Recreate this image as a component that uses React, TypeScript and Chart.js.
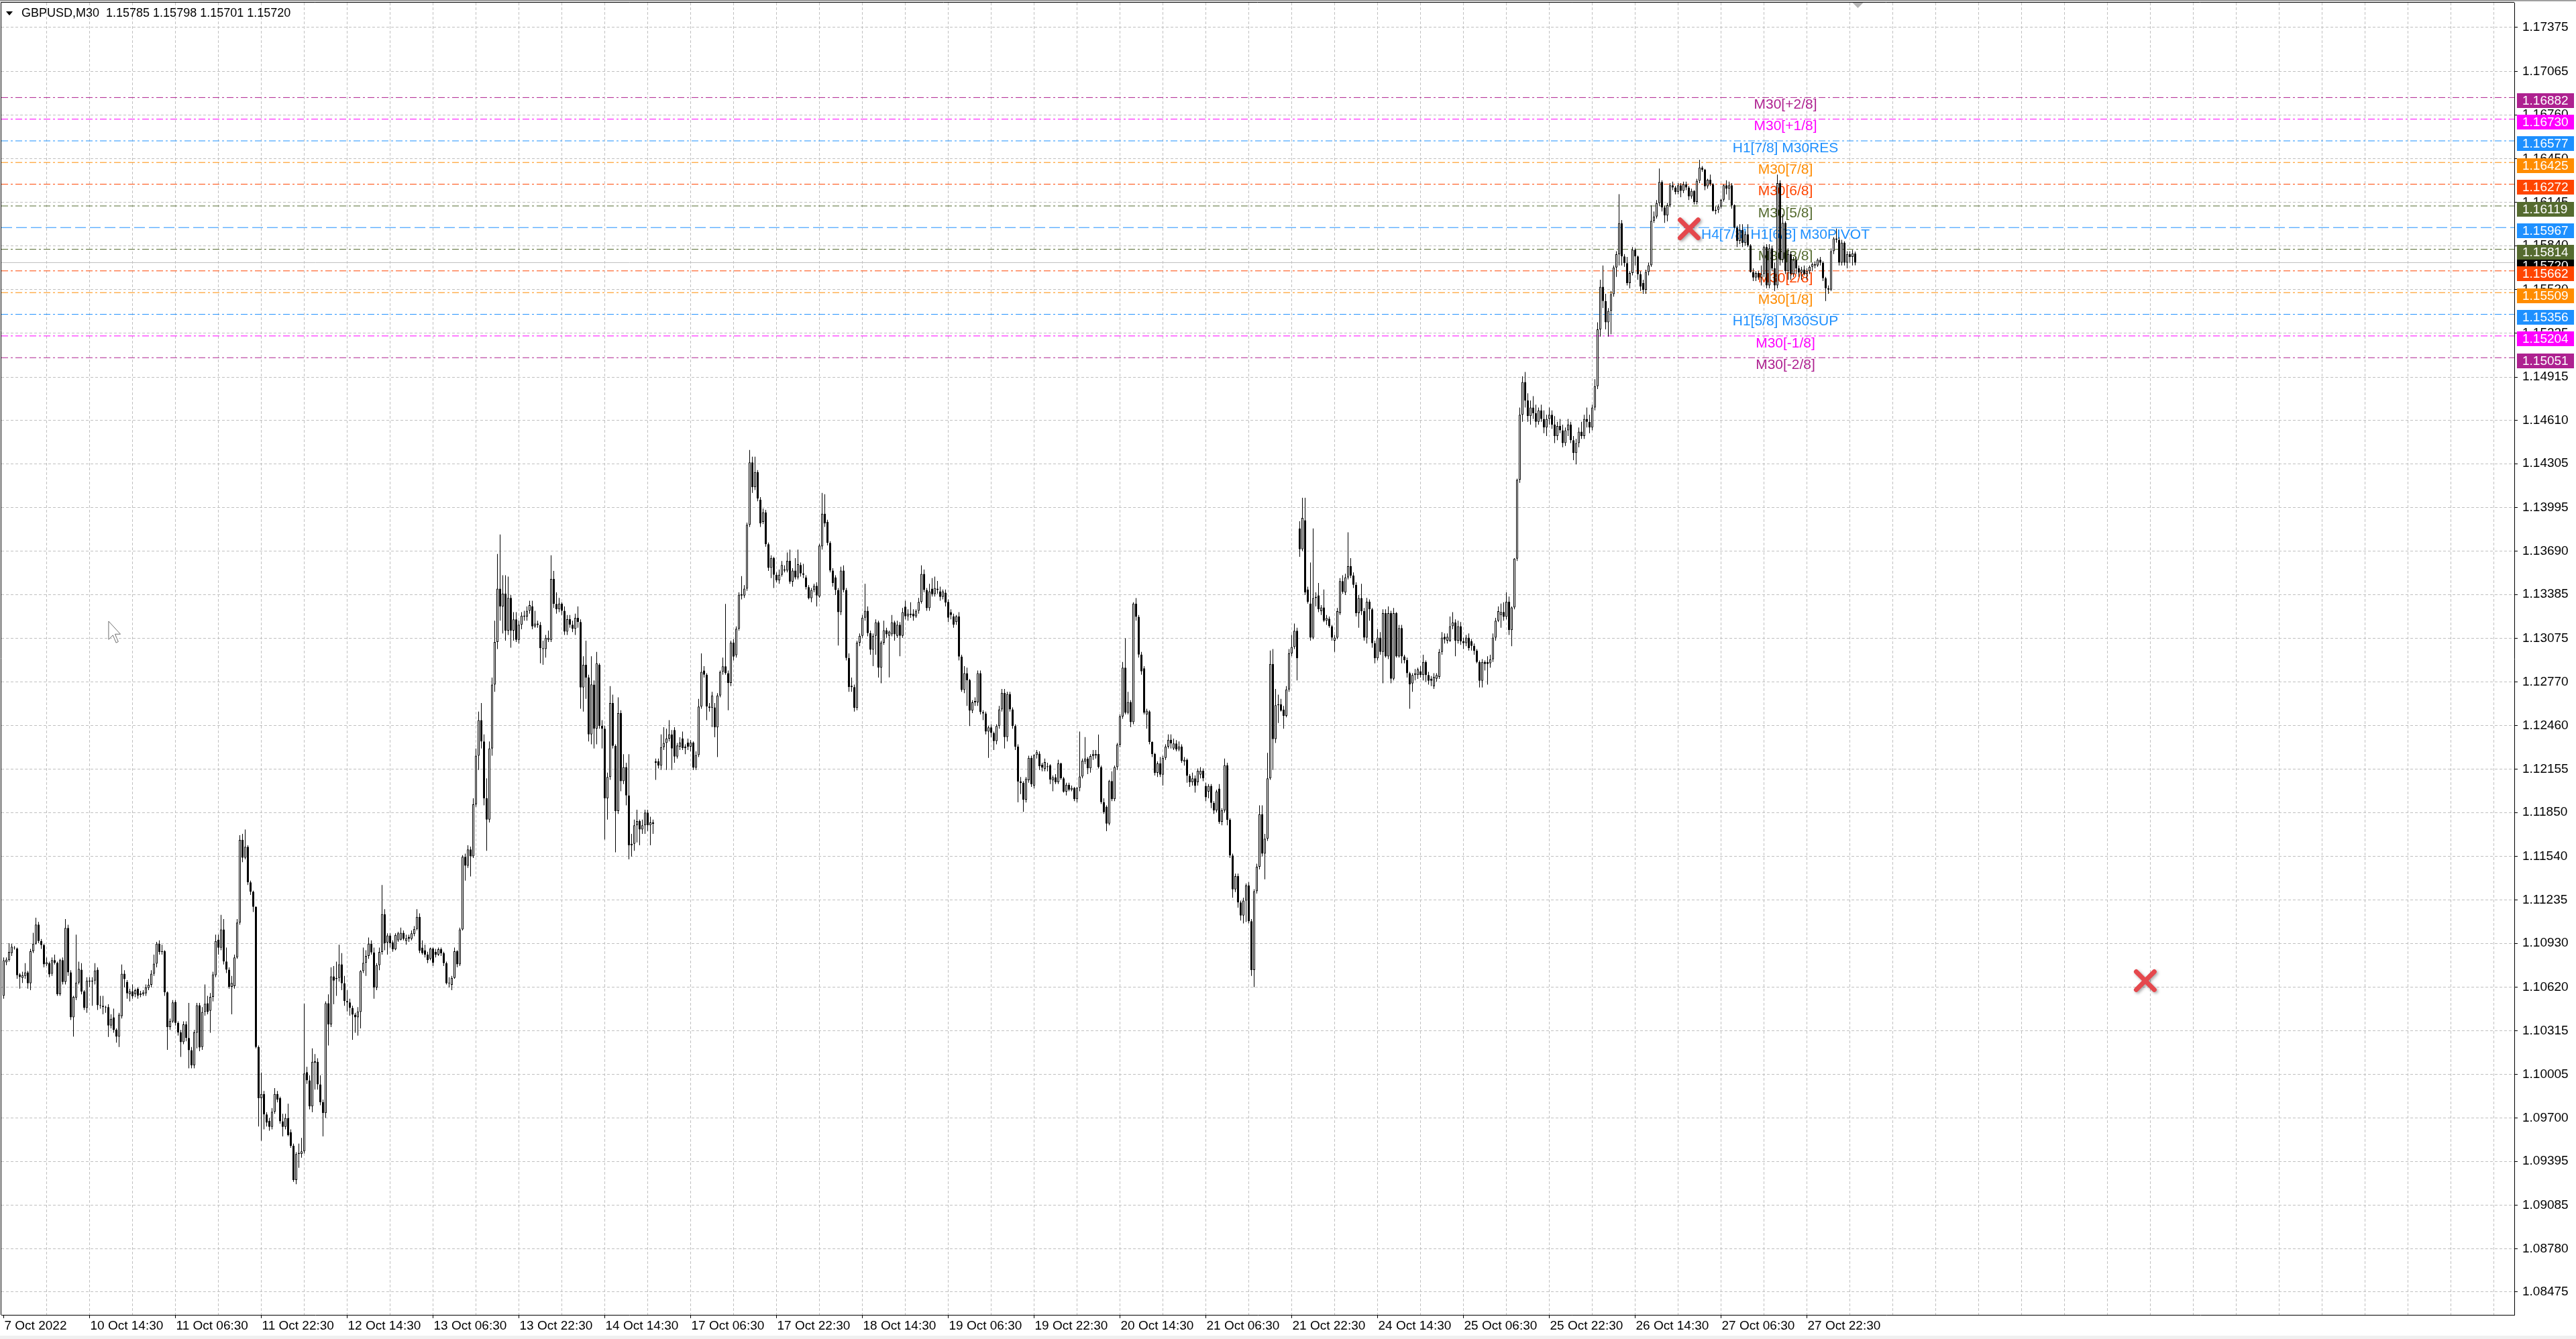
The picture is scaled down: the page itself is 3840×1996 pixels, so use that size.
import React, { useEffect, useRef } from 'react';
import { Chart, registerables } from 'chart.js';

Chart.register(...registerables);

const SYMBOL = 'GBPUSD';
const PERIOD = 'M30';

// time-axis labels, one every 32 bars
const X_LABELS = ['7 Oct 2022', '10 Oct 14:30', '11 Oct 06:30', '11 Oct 22:30', '12 Oct 14:30', '13 Oct 06:30', '13 Oct 22:30', '14 Oct 14:30', '17 Oct 06:30', '17 Oct 22:30', '18 Oct 14:30', '19 Oct 06:30', '19 Oct 22:30', '20 Oct 14:30', '21 Oct 06:30', '21 Oct 22:30', '24 Oct 14:30', '25 Oct 06:30', '25 Oct 22:30', '26 Oct 14:30', '27 Oct 06:30', '27 Oct 22:30'];

// price-axis labels
const Y_TICKS = [1.17375, 1.17065, 1.1676, 1.1645, 1.16145, 1.1584, 1.1553, 1.15225, 1.14915, 1.1461, 1.14305, 1.13995, 1.1369, 1.13385, 1.13075, 1.1277, 1.1246, 1.12155, 1.1185, 1.1154, 1.11235, 1.1093, 1.1062, 1.10315, 1.10005, 1.097, 1.09395, 1.09085, 1.0878, 1.08475];

// candles, in points above 1.00000 (10810 = 1.10810)
const OPEN = [
10560,10795,10811,10860,10900,10892,10711,10686,10700,10725,
10648,10873,10927,11061,10946,10917,10782,10790,10715,10811,
10792,10571,10811,10657,11038,10725,10408,10546,10653,10744,
10590,10475,10667,10660,10667,10744,10494,10490,10480,10480,
10350,10408,10321,10273,10417,10715,10657,10571,10590,10571,
10609,10565,10571,10577,10615,10638,10715,10786,10927,10869,
10873,10584,10340,10379,10517,10369,10302,10234,10359,10263,
10177,10071,10300,10494,10200,10446,10507,10455,10552,10705,
10955,10898,11027,10802,10744,10623,10628,10830,11075,11657,
11532,11609,11359,11292,11186,10200,9840,9869,9725,9680,
9638,9744,9869,9840,9677,9638,9700,9600,9504,9263,
9446,9446,9465,10023,9965,9782,10090,10096,9936,9811,
9734,10507,10359,10696,10677,10686,10782,10648,10523,10513,
10475,10427,10408,10446,10734,10792,10840,10927,10865,10619,
10776,10869,11134,10935,10985,10936,10888,10950,10955,11003,
10946,10975,10961,10995,11030,11115,10900,10880,10850,10820,
10892,10869,10850,10888,10859,10790,10653,10638,10686,10873,
10782,11027,11538,11475,11590,11542,11907,12250,12500,12350,
11950,11800,12300,12750,13050,13426,13300,13390,13130,13360,
13130,13210,13065,13172,13235,13230,13270,13300,13160,13180,
13170,13006,13000,13065,13065,13494,13318,13280,13320,13270,
13123,13211,13172,13143,13220,13190,12730,12890,12800,12400,
12750,12440,12890,12460,12440,11950,12100,12620,12320,11860,
12550,12070,12170,11970,11620,11630,11760,11790,11730,11760,
11850,11760,11780,12200,12210,12180,12310,12340,12370,12400,
12430,12244,12313,12371,12303,12342,12313,12342,12166,12254,
12596,12850,12820,12586,12586,12590,12449,12674,12840,12879,
12830,12762,13045,12957,13143,13377,13377,13426,13875,14314,
14139,14246,14051,13895,13963,13738,13572,13641,13523,13484,
13523,13560,13553,13621,13475,13553,13504,13592,13533,13504,
13436,13358,13416,13445,13371,13723,13953,13895,13748,13553,
13504,13416,13260,13553,13416,12938,12742,12733,12586,13045,
13094,13221,13270,13113,12996,13094,13188,12869,13045,13133,
13094,13104,13188,13094,13172,13094,13299,13231,13240,13250,
13231,13270,13332,13529,13416,13289,13426,13387,13426,13406,
13367,13397,13332,13260,13231,13191,13231,12947,12713,12830,
12781,12567,12635,12625,12830,12557,12547,12420,12449,12410,
12352,12459,12576,12693,12381,12684,12576,12459,12313,12068,
12059,11940,12078,12234,12039,12254,12264,12186,12156,12175,
12182,12076,12098,12063,12195,12090,11997,12045,12010,12023,
11944,12023,12103,12209,12230,12161,12248,12250,12262,12169,
11923,11891,11772,12071,11944,12169,12328,12526,12870,12552,
12627,12486,13320,13227,12962,12865,12539,12561,12346,12262,
12129,12195,12116,12235,12314,12362,12300,12336,12293,12314,
12209,12222,12108,12063,12090,12063,12116,12143,12037,11997,
12037,11918,11865,12018,11785,11865,12182,11799,11547,11309,
11402,11217,11125,11230,11336,11085,10741,11296,11468,11838,
11561,11666,12090,12896,12367,12605,12611,12574,12531,12716,
12970,13015,13129,13849,13703,13907,13420,13320,13081,13367,
13378,13267,13293,13200,13214,13161,13060,13081,13253,13478,
13399,13505,13584,13518,13452,13253,13359,13267,13081,13333,
13280,13042,12936,13081,12981,13253,12949,13253,12791,13253,
12949,13148,12949,12923,12830,12759,12817,12817,12843,12817,
12910,12817,12791,12738,12791,12804,12981,13087,13060,13060,
13161,13187,13060,13161,13055,13042,13081,13055,13023,12989,
12910,12777,12910,12910,12900,12928,13081,13200,13240,13261,
13227,13333,13134,13293,13637,14192,14650,14880,14750,14640,
14700,14660,14600,14680,14620,14560,14620,14650,14580,14500,
14570,14540,14450,14540,14580,14470,14380,14450,14530,14500,
14620,14600,14560,14700,14850,15250,15550,15450,15300,15380,
15498,15686,15779,15998,15764,15717,15576,15647,15811,15764,
15639,15576,15529,15654,15701,16014,16045,16139,16288,16108,
16053,16124,16264,16249,16217,16264,16225,16272,16249,16186,
16225,16147,16296,16389,16374,16257,16303,16272,16084,16092,
16116,16163,16264,16240,16264,16124,15967,15873,15950,15858,
15920,15842,15654,15615,15647,15615,15640,15830,15560,15820,
15680,15560,16280,15740,16000,15660,15780,15640,15740,15680,
15650,15670,15640,15660,15690,15710,15700,15740,15720,15610,
15540,15530,15800,15890,15880,15720,15860,15720,15780,15760,15785];

const HIGH = [
10830,10830,10930,10925,10910,10900,10720,10730,10790,10735,
10890,11003,11109,11080,10960,10925,10830,10800,10830,10850,
10800,10820,10830,11100,11060,10740,10560,10990,10800,10790,
10600,10690,10690,10690,10790,10760,10560,10560,10490,10500,
10430,10470,10330,10440,10780,10740,10670,10610,10640,10610,
10620,10595,10600,10640,10680,10740,10850,10940,10950,10920,
10880,10590,10400,10530,10530,10380,10320,10380,10380,10510,
10200,10320,10510,10510,10480,10640,10560,10580,10730,10990,
10990,11130,11100,10900,10760,10700,10850,11100,11690,11700,
11730,11620,11370,11300,11190,10210,10020,9890,9740,9700,
9770,9910,9890,9850,9730,9730,9800,9620,9520,9460,
9520,9560,10504,10060,10000,10190,10150,10120,10000,9830,
10520,10570,10760,10770,10800,10920,10860,10700,10600,10540,
10490,10440,10480,10740,10900,10880,10970,10950,10900,10790,
10900,11340,11170,11000,11000,10950,11000,11010,11040,11020,
10990,10990,11020,11050,11170,11140,10950,10920,10870,10900,
10900,10890,10900,10900,10870,10800,10690,10700,10900,10880,
11040,11550,11560,11620,11610,11950,12300,12560,12620,12400,
12090,12350,12800,13200,13670,13807,13520,13520,13510,13380,
13260,13260,13200,13260,13270,13300,13340,13340,13270,13200,
13190,13060,13100,13130,13660,13550,13400,13360,13330,13300,
13240,13240,13200,13250,13300,13210,12950,13060,12820,12950,
12780,12980,12900,12500,12460,12130,12740,12680,12330,12660,
12570,12260,12200,12260,11700,11800,11870,11800,11800,11870,
11870,11820,11800,12230,12230,12400,12450,12440,12500,12430,
12450,12340,12380,12420,12330,12370,12360,12350,12280,12650,
12970,12880,12830,12620,12700,12620,12690,12850,12940,13318,
12850,13060,13070,13160,13400,13514,13450,13890,14402,14354,
14354,14260,14070,13990,13980,13750,13660,13650,13540,13560,
13620,13590,13680,13700,13570,13640,13700,13610,13600,13520,
13450,13430,13460,13470,13740,14100,14090,13910,13760,13570,
13520,13430,13580,13590,13430,12970,12800,12750,13060,13110,
13240,13460,13300,13130,13110,13210,13200,13060,13200,13150,
13130,13240,13200,13200,13190,13290,13340,13280,13330,13280,
13280,13360,13590,13560,13430,13460,13500,13510,13480,13440,
13420,13420,13350,13280,13250,13240,13260,12960,12880,12870,
12790,12640,12660,12850,12850,12570,12560,12460,12470,12420,
12470,12600,12720,12720,12700,12700,12590,12470,12330,12100,
12070,12100,12250,12250,12260,12290,12280,12200,12230,12200,
12190,12110,12120,12222,12200,12100,12060,12060,12040,12030,
12030,12420,12230,12381,12240,12260,12290,12290,12399,12180,
11950,11900,12080,12140,12180,12340,12540,12910,13076,12700,
12640,13330,13359,13240,12980,12880,12580,12570,12350,12270,
12210,12240,12250,12330,12400,12400,12370,12360,12350,12330,
12240,12230,12120,12130,12110,12160,12170,12160,12060,12050,
12050,11930,12010,12050,11880,12230,12200,11810,11560,11420,
11420,11230,11250,11350,11360,11100,11310,11490,11900,11900,
11700,12270,12990,13000,12720,12680,12650,12600,12740,13000,
13100,13180,13150,13900,14065,14065,13440,13610,13849,13400,
13465,13310,13420,13240,13230,13170,13100,13290,13500,13520,
13530,13822,13640,13540,13470,13380,13460,13290,13360,13350,
13290,13060,13140,13120,13280,13280,13300,13270,13290,13260,
13170,13170,12960,12940,12840,12830,12860,12870,12880,12960,
12920,12840,12810,12830,12830,13000,13120,13110,13110,13230,
13260,13210,13200,13190,13080,13100,13110,13070,13040,13000,
12920,12930,12920,12950,12960,13110,13220,13300,13320,13330,
13400,13370,13300,13640,14200,14700,14920,14950,14800,14750,
14780,14720,14700,14720,14680,14650,14700,14680,14640,14600,
14620,14580,14560,14620,14600,14500,14480,14560,14600,14650,
14700,14650,14720,14900,15300,15600,15700,15500,15400,15520,
15700,15800,16202,16020,15780,15760,15660,15830,15820,15770,
15660,15600,15670,15720,16124,16080,16160,16382,16300,16120,
16140,16280,16290,16260,16280,16280,16290,16290,16260,16240,
16230,16310,16444,16400,16380,16310,16340,16280,16116,16130,
16170,16270,16300,16290,16280,16130,15980,15990,15990,15940,
15990,15850,15680,15660,15660,15700,15840,15850,15850,15840,
15720,16340,16300,16060,16010,15820,15800,15760,15760,15700,
15690,15700,15680,15700,15720,15730,15750,15760,15730,15620,
15560,15820,15900,15960,15900,15880,15870,15800,15800,15810,15798];

const LOW = [
10540,10775,10800,10840,10885,10680,10610,10650,10680,10610,
10600,10860,10920,10930,10890,10760,10770,10690,10700,10780,
10560,10560,10640,10640,10700,10390,10273,10530,10640,10570,
10460,10440,10620,10490,10640,10460,10470,10430,10440,10270,
10330,10300,10230,10200,10400,10620,10540,10520,10540,10550,
10540,10550,10560,10560,10600,10620,10700,10760,10850,10850,
10560,10180,10320,10370,10350,10280,10130,10220,10240,10050,
10050,10050,10190,10170,10180,10420,10430,10300,10520,10690,
10850,10880,10780,10720,10610,10430,10610,10820,11060,11500,
11520,11340,11270,11150,10190,9640,9540,9620,9640,9610,
9620,9730,9810,9660,9570,9620,9570,9490,9250,9234,
9350,9420,9450,9940,9760,9740,9900,9900,9790,9570,
9700,10210,10340,10500,10560,10660,10600,10490,10450,10420,
10250,10300,10280,10330,10720,10700,10820,10850,10540,10600,
10740,10850,10880,10850,10900,10870,10880,10940,10950,10950,
10920,10940,10950,10980,11020,10860,10850,10830,10790,10810,
10770,10830,10840,10840,10770,10640,10620,10600,10680,10760,
10770,11020,11370,11460,11400,11530,11890,12150,12300,11900,
11580,11780,12250,12700,13000,13200,13110,13060,13100,13010,
13060,13050,13040,13140,13200,13200,13250,13140,13150,13150,
12900,12890,12940,13050,13050,13290,13250,13260,13240,13100,
13100,13150,13120,13100,13150,12580,12560,12650,12350,12330,
12300,12330,12440,12300,11660,11800,12080,12300,11570,11840,
12000,12050,11900,11520,11540,11580,11640,11620,11700,11700,
11720,11620,11700,12080,12160,12150,12290,12150,12350,12150,
12200,12230,12290,12290,12260,12290,12280,12150,12150,12240,
12580,12800,12500,12560,12450,12380,12240,12660,12820,12820,
12570,12740,12920,12940,13130,13350,13360,13410,13860,14100,
14120,14040,13860,13880,13720,13550,13500,13430,13470,13460,
13510,13540,13540,13460,13440,13490,13490,13510,13500,13420,
13350,13330,13400,13300,13360,13700,13860,13730,13540,13440,
13380,13025,13240,13400,12920,12700,12700,12560,12570,13020,
13080,13200,13090,12960,12880,12960,12800,12760,13030,13080,
12801,13090,13060,13080,12950,13080,13210,13200,13220,13200,
13220,13250,13320,13400,13270,13270,13370,13370,13390,13340,
13350,13300,13190,13210,13150,13170,12920,12700,12690,12600,
12459,12550,12600,12600,12540,12500,12400,12234,12380,12290,
12330,12440,12560,12300,12350,12560,12440,12290,11922,11980,
11854,11920,12060,12030,12020,12230,12150,12140,12140,12140,
12050,12000,12050,12050,12080,11990,11970,12000,12000,11930,
11920,12000,12090,12190,12120,12130,12220,12230,12160,11910,
11840,11719,11760,11930,11930,12150,12310,12510,12540,12540,
12450,12470,13200,12940,12820,12540,12440,12330,12240,12110,
12100,12100,12040,12220,12300,12300,12290,12280,12280,12200,
12180,12060,12030,12040,11990,12040,12090,12070,11930,11950,
11880,11840,11850,11770,11760,11850,11760,11530,11250,11290,
11180,11090,11070,11080,11070,10700,10621,11280,11450,11540,
11380,11650,12080,12150,12340,12480,12560,12440,12520,12700,
12950,13000,12780,13650,13690,13380,13320,13060,13070,13300,
13260,13240,13190,13170,13150,13060,12980,13070,13240,13390,
13380,13490,13500,13430,13230,13150,13240,13060,13040,13200,
13010,12900,12920,12960,12760,12940,12930,12760,12780,12940,
12940,12900,12900,12800,12580,12700,12780,12790,12800,12780,
12770,12750,12740,12720,12770,12790,12960,13040,13040,13050,
13140,12950,13040,13030,13000,13020,12990,12990,12960,12900,
12730,12730,12850,12750,12870,12910,13060,13190,13150,13200,
13210,13100,13020,13280,13620,14170,14600,14700,14600,14580,
14620,14560,14580,14600,14520,14500,14580,14550,14450,14470,
14520,14420,14430,14500,14450,14330,14300,14420,14480,14480,
14560,14520,14540,14680,14830,15200,15400,15250,15200,15216,
15480,15620,15700,15700,15690,15560,15540,15630,15700,15600,
15520,15500,15500,15630,15690,16000,16030,16120,16080,16000,
16010,16110,16230,16200,16200,16180,16210,16230,16160,16170,
16130,16130,16280,16360,16230,16240,16260,16080,16060,16070,
16100,16150,16200,16160,16100,15960,15830,15850,15830,15840,
15830,15650,15590,15590,15600,15560,15620,15540,15540,15660,
15520,15540,15700,15720,15640,15600,15600,15620,15640,15620,
15600,15630,15600,15640,15660,15680,15690,15700,15590,15450,
15500,15520,15780,15860,15700,15700,15700,15680,15720,15700,15701];

const CLOSE = [
10810,10815,10869,10905,10895,10705,10692,10705,10725,10648,
10873,10927,11061,10946,10917,10782,10795,10711,10811,10792,
10571,10811,10657,11038,10725,10408,10552,10653,10749,10590,
10475,10667,10660,10667,10738,10494,10490,10480,10476,10350,
10398,10321,10273,10427,10715,10677,10577,10590,10557,10600,
10561,10577,10584,10619,10638,10715,10786,10927,10869,10873,
10584,10340,10384,10513,10369,10302,10234,10359,10263,10177,
10071,10302,10494,10196,10446,10504,10446,10552,10711,10946,
10898,11027,10802,10744,10623,10650,10830,11075,11657,11532,
11609,11359,11292,11186,10200,9840,9869,9725,9667,9638,
9744,9869,9830,9677,9638,9700,9580,9504,9263,9446,
9455,9465,10013,9965,9782,10096,10100,9936,9811,9734,
10507,10359,10696,10667,10686,10782,10648,10523,10513,10475,
10427,10408,10450,10734,10792,10840,10927,10865,10619,10776,
10869,11134,10930,10985,10930,10888,10988,11000,11003,10961,
10965,10961,11000,11030,11115,10878,10860,10850,10811,10892,
10792,10850,10888,10859,10790,10648,10648,10686,10873,10782,
11027,11538,11475,11590,11542,11907,12250,12500,12350,11950,
11800,12300,12750,13050,13426,13300,13390,13130,13360,13130,
13210,13065,13172,13235,13230,13270,13310,13160,13180,13170,
13006,13000,13080,13080,13494,13318,13280,13320,13270,13123,
13211,13172,13143,13220,13190,12730,12890,12800,12400,12752,
12440,12900,12460,12440,11950,12100,12620,12320,11860,12550,
12070,12170,11970,11620,11630,11760,11790,11730,11760,11850,
11760,11780,11770,12210,12180,12310,12340,12370,12400,12300,
12244,12322,12342,12303,12313,12313,12342,12166,12254,12596,
12840,12820,12596,12596,12674,12449,12674,12840,12879,12830,
12762,13045,12947,13143,13383,13387,13426,13875,14314,14139,
14246,14061,13885,13963,13738,13572,13641,13523,13484,13523,
13592,13553,13621,13475,13553,13504,13598,13533,13523,13436,
13358,13416,13445,13377,13729,13953,13885,13748,13553,13465,
13416,13260,13553,13416,12938,12733,12733,12586,13045,13094,
13221,13270,13113,12996,13094,13188,12869,13045,13133,13104,
13123,13188,13104,13172,13094,13260,13231,13250,13250,13231,
13270,13332,13529,13416,13289,13406,13387,13430,13416,13367,
13406,13328,13221,13240,13172,13231,12947,12713,12830,12781,
12567,12625,12625,12830,12557,12547,12420,12449,12410,12352,
12459,12576,12693,12381,12684,12576,12459,12313,12068,12059,
11940,12088,12234,12049,12254,12274,12176,12166,12205,12169,
12082,12098,12063,12195,12090,11997,12045,12010,12023,11944,
12023,12103,12214,12230,12161,12248,12262,12262,12169,11923,
11852,11772,12071,11944,12169,12328,12526,12870,12552,12627,
12486,13320,13227,12962,12843,12552,12566,12346,12262,12129,
12195,12116,12235,12314,12362,12336,12336,12293,12314,12214,
12222,12108,12063,12090,12037,12143,12143,12090,11957,12037,
11918,11865,11997,11785,11865,12182,11799,11547,11309,11402,
11217,11125,11230,11336,11085,10741,11296,11468,11838,11561,
11666,12090,12896,12367,12605,12611,12566,12531,12716,12970,
13015,13129,12936,13703,13923,13399,13333,13081,13359,13359,
13280,13293,13200,13219,13161,13081,13081,13267,13478,13404,
13505,13584,13518,13452,13253,13359,13267,13081,13333,13280,
13042,12936,13081,12981,13253,12949,13253,12791,13253,12949,
13148,12949,12923,12830,12751,12817,12830,12857,12817,12910,
12817,12777,12777,12804,12817,12981,13081,13068,13087,13161,
13187,13060,13161,13055,13042,13081,13007,13023,12989,12910,
12777,12910,12896,12896,12928,13081,13200,13267,13261,13227,
13333,13134,13293,13637,14192,14650,14880,14750,14640,14700,
14660,14600,14680,14620,14560,14620,14650,14580,14500,14570,
14540,14450,14540,14580,14470,14380,14450,14530,14500,14620,
14600,14560,14700,14850,15250,15550,15450,15300,15380,15498,
15686,15779,15998,15764,15717,15576,15647,15811,15764,15639,
15553,15529,15654,15701,16014,16045,16139,16288,16108,16053,
16124,16264,16249,16217,16264,16225,16272,16249,16186,16225,
16147,16296,16389,16374,16257,16303,16272,16084,16092,16116,
16163,16264,16240,16264,16124,15967,15873,15950,15858,15920,
15842,15654,15615,15647,15615,15640,15830,15560,15820,15680,
15560,16280,15740,16000,15660,15780,15640,15740,15680,15650,
15670,15640,15660,15690,15710,15700,15740,15720,15610,15540,
15530,15800,15890,15880,15720,15860,15720,15780,15760,15785,15720];

// Murrey-math style level lines drawn on the chart
const LEVEL_PRICES = [1.16882, 1.1673, 1.16577, 1.16425, 1.16272, 1.16119, 1.15967, 1.15814, 1.15662, 1.15509, 1.15356, 1.15204, 1.15051];
const LEVEL_NAMES = ['M30[+2/8]', 'M30[+1/8]', 'H1[7/8] M30RES', 'M30[7/8]', 'M30[6/8]', 'M30[5/8]', 'H4[7/8] H1[6/8] M30PIVOT', 'M30[3/8]', 'M30[2/8]', 'M30[1/8]', 'H1[5/8] M30SUP', 'M30[-1/8]', 'M30[-2/8]'];
const LABEL_BAR = 664;

// red cross objects (bar index, price)
const CROSS_BARS = [628.1, 798.1];
const CROSS_PRICES = [1.15958, 1.10666];

// mouse pointer left on screen (bar index, price)
const CURSOR_BAR = 39.1;
const CURSOR_PRICE = 1.13196;

// ---- styles ----
const PURPLE = '#AE2190';
const LEVEL_COLORS = [PURPLE, '#FF00FF', '#1E90FF', '#FF8C00', '#FF4500', '#556B2F', '#1E90FF', '#556B2F', '#FF4500', '#FF8C00', '#1E90FF', '#FF00FF', PURPLE];
const DASHDOT = [10, 4, 3, 4];
const DASH = [16, 6];
const GRID = '#C0C0C0';
const FONT = '"Liberation Sans", Arial, sans-serif';

const X_MIN = -0.875;
const X_MAX = 935.625;
const Y_MIN = 1.0831447;
const Y_MAX = 1.175496;

const P = (v: number) => 1 + v / 100000;

function xLabel(v: number): string {
  if (v % 32 !== 0) return '';
  const k = v / 32;
  return k < X_LABELS.length ? X_LABELS[k] : '';
}

export default function App() {
  const ref = useRef<HTMLCanvasElement | null>(null);

  useEffect(() => {
    const canvas = ref.current;
    if (!canvas) return;
    const n = CLOSE.length;
    const last = n - 1;
    const idx = Array.from({ length: n }, (_, i) => i);

    const wickData = idx.map((i) => ({
      x: i,
      y: [P(Math.min(LOW[i], OPEN[i], CLOSE[i])), P(Math.max(HIGH[i], OPEN[i], CLOSE[i]))],
    }));
    const bodyData = idx.map((i) => ({ x: i, y: [P(OPEN[i]), P(CLOSE[i])] }));
    const bodyColors = idx.map((i) => (CLOSE[i] >= OPEN[i] ? '#FFFFFF' : '#000000'));
    const lastPrice = P(CLOSE[last]);

    const gridBars: number[] = [];
    for (let b = 0; b <= X_MAX; b += 16) gridBars.push(b);

    const levelSets = LEVEL_PRICES.map((p, k) => ({
      type: 'line',
      label: LEVEL_NAMES[k],
      data: [{ x: X_MIN, y: p }, { x: X_MAX, y: p }],
      borderColor: LEVEL_COLORS[k],
      borderWidth: 1,
      borderDash: LEVEL_NAMES[k].indexOf('PIVOT') >= 0 ? DASH : DASHDOT,
      pointRadius: 0,
      fill: false,
      order: 3,
    }));

    const overlay = {
      id: 'overlay',
      beforeDraw(chart: any) {
        const { ctx, width, height } = chart;
        ctx.save();
        ctx.fillStyle = '#FFFFFF';
        ctx.fillRect(0, 0, width, height);
        ctx.restore();
      },
      beforeDatasetsDraw(chart: any) {
        const { ctx } = chart;
        const xs = chart.scales.x;
        const ys = chart.scales.y;
        ctx.save();
        ctx.font = '21px ' + FONT;
        ctx.textAlign = 'center';
        ctx.textBaseline = 'middle';
        LEVEL_PRICES.forEach((p, k) => {
          ctx.fillStyle = LEVEL_COLORS[k];
          ctx.fillText(LEVEL_NAMES[k], xs.getPixelForValue(LABEL_BAR), ys.getPixelForValue(p) + 11);
        });
        ctx.restore();
      },
      beforeDatasetDraw(chart: any, args: any) {
        if (chart.data.datasets[args.index].label === 'crosses') {
          const ctx = chart.ctx;
          ctx.save();
          ctx.lineCap = 'round';
          ctx.shadowColor = 'rgba(0,0,0,0.35)';
          ctx.shadowBlur = 4;
          ctx.shadowOffsetX = 2;
          ctx.shadowOffsetY = 2;
        }
      },
      afterDatasetDraw(chart: any, args: any) {
        if (chart.data.datasets[args.index].label === 'crosses') chart.ctx.restore();
      },
      afterDraw(chart: any) {
        const { ctx, chartArea } = chart;
        const xs = chart.scales.x;
        const ys = chart.scales.y;
        ctx.save();
        // frame (left + top)
        ctx.strokeStyle = '#000000';
        ctx.lineWidth = 1;
        ctx.beginPath();
        ctx.moveTo(chartArea.left - 0.5, chartArea.bottom);
        ctx.lineTo(chartArea.left - 0.5, chartArea.top - 0.5);
        ctx.lineTo(chartArea.right, chartArea.top - 0.5);
        ctx.stroke();
        // window chrome
        ctx.fillStyle = '#A0A0A0';
        ctx.fillRect(0, 0, chart.width, 2);
        ctx.fillStyle = '#F0F0F0';
        ctx.fillRect(0, chart.height - 5, chart.width, 5);

        // price boxes on the right axis
        const boxX = chartArea.right + 4;
        const drawBox = (p: number, bg: string) => {
          const y = ys.getPixelForValue(p);
          ctx.fillStyle = bg;
          ctx.fillRect(boxX, Math.round(y - 6.5), 85, 22);
          ctx.fillStyle = '#FFFFFF';
          ctx.font = '19px ' + FONT;
          ctx.textAlign = 'left';
          ctx.textBaseline = 'middle';
          ctx.fillText(p.toFixed(5), chartArea.right + 12, Math.round(y - 6.5) + 11.5);
        };
        drawBox(lastPrice, '#000000');
        LEVEL_PRICES.forEach((p, k) => drawBox(p, LEVEL_COLORS[k]));

        // title
        ctx.fillStyle = '#000000';
        ctx.beginPath();
        ctx.moveTo(9, 17);
        ctx.lineTo(19, 17);
        ctx.lineTo(14, 23);
        ctx.closePath();
        ctx.fill();
        ctx.font = '18px ' + FONT;
        ctx.textAlign = 'left';
        ctx.textBaseline = 'middle';
        const title = SYMBOL + ',' + PERIOD + '  ' + [OPEN[last], HIGH[last], LOW[last], CLOSE[last]].map((v) => P(v).toFixed(5)).join(' ');
        ctx.fillText(title, 32, 20);

        // chart shift marker
        const sx = xs.getPixelForValue(n);
        ctx.fillStyle = '#B4B4B4';
        ctx.beginPath();
        ctx.moveTo(sx - 8, chartArea.top);
        ctx.lineTo(sx + 8, chartArea.top);
        ctx.lineTo(sx, chartArea.top + 8);
        ctx.closePath();
        ctx.fill();

        // mouse pointer
        const cx = xs.getPixelForValue(CURSOR_BAR);
        const cy = ys.getPixelForValue(CURSOR_PRICE);
        const pts = [[0, 0], [0, 17], [4, 13], [7, 20], [9, 19], [6, 12], [11, 12]];
        const s = 1.6;
        ctx.beginPath();
        pts.forEach(([px, py], k) => {
          if (k === 0) ctx.moveTo(cx + px * s, cy + py * s);
          else ctx.lineTo(cx + px * s, cy + py * s);
        });
        ctx.closePath();
        ctx.fillStyle = '#FFFFFF';
        ctx.fill();
        ctx.strokeStyle = '#6E6E6E';
        ctx.lineWidth = 1;
        ctx.stroke();
        ctx.restore();
      },
    };

    const chart = new Chart(canvas, {
      type: 'bar',
      data: {
        datasets: [
          {
            type: 'scatter',
            label: 'crosses',
            data: CROSS_BARS.map((b, k) => ({ x: b, y: CROSS_PRICES[k] })),
            pointStyle: 'crossRot',
            pointRadius: 19,
            pointBorderWidth: 7,
            pointBorderColor: '#E5484D',
            pointBackgroundColor: '#E5484D',
            order: 0,
          },
          {
            type: 'bar',
            label: 'bodies',
            data: bodyData,
            backgroundColor: bodyColors,
            borderColor: '#000000',
            borderWidth: 1,
            borderSkipped: false,
            barPercentage: 1,
            categoryPercentage: 1,
            maxBarThickness: 3,
            minBarLength: 1,
            grouped: false,
            inflateAmount: 0,
            order: 1,
          },
          {
            type: 'bar',
            label: 'wicks',
            data: wickData,
            backgroundColor: '#000000',
            borderWidth: 0,
            barPercentage: 1,
            categoryPercentage: 1,
            maxBarThickness: 1,
            grouped: false,
            inflateAmount: 0,
            order: 2,
          },
          {
            type: 'line',
            label: 'bid',
            data: [{ x: X_MIN, y: lastPrice }, { x: X_MAX, y: lastPrice }],
            borderColor: '#C0C0C0',
            borderWidth: 1,
            pointRadius: 0,
            fill: false,
            order: 3,
          },
          ...levelSets,
        ] as any,
      },
      options: {
        responsive: false,
        maintainAspectRatio: false,
        animation: false,
        devicePixelRatio: 1,
        events: [],
        layout: { padding: { left: 2, top: 4, right: 0, bottom: 0 }, autoPadding: false },
        plugins: { legend: { display: false }, tooltip: { enabled: false }, title: { display: false } },
        scales: {
          x: {
            type: 'linear',
            position: 'bottom',
            min: X_MIN,
            max: X_MAX,
            offset: false,
            afterFit: (s: any) => {
              s.height = 36;
              s.paddingLeft = 0;
              s.paddingRight = 0;
              s.paddingTop = 0;
              s.paddingBottom = 0;
            },
            afterBuildTicks: (s: any) => {
              s.ticks = gridBars.map((v) => ({ value: v }));
            },
            ticks: {
              autoSkip: false,
              maxRotation: 0,
              minRotation: 0,
              align: 'start',
              padding: 0,
              labelOffset: 1,
              color: '#000000',
              font: { size: 19, family: FONT },
              callback: (v: any) => xLabel(Number(v)),
            },
            grid: {
              offset: false,
              color: (c: any) => (c.tick && c.tick.value === 0 ? 'rgba(0,0,0,0)' : GRID),
              lineWidth: 1,
              drawTicks: true,
              tickLength: 5,
              tickColor: (c: any) => (c.tick && xLabel(c.tick.value) ? '#000000' : 'rgba(0,0,0,0)'),
            },
            border: { display: true, color: '#000000', width: 1, dash: [4, 3] },
          },
          y: {
            type: 'linear',
            position: 'right',
            min: Y_MIN,
            max: Y_MAX,
            afterFit: (s: any) => {
              s.width = 92;
              s.paddingLeft = 0;
              s.paddingRight = 0;
              s.paddingTop = 0;
              s.paddingBottom = 0;
            },
            afterBuildTicks: (s: any) => {
              s.ticks = Y_TICKS.map((v) => ({ value: v }));
            },
            ticks: {
              autoSkip: false,
              padding: 7,
              color: '#000000',
              font: { size: 19, family: FONT },
              callback: (v: any) => Number(v).toFixed(5),
            },
            grid: {
              color: GRID,
              lineWidth: 1,
              drawTicks: true,
              tickLength: 5,
              tickColor: '#000000',
            },
            border: { display: true, color: '#000000', width: 1, dash: [4, 3] },
          },
        },
      } as any,
      plugins: [overlay as any],
    });

    return () => chart.destroy();
  }, []);

  return (
    <div style={{ position: 'fixed', left: 0, top: 0, width: 3840, height: 1996, background: '#FFFFFF' }}>
      <canvas ref={ref} width={3840} height={1996} style={{ width: 3840, height: 1996, display: 'block' }} />
    </div>
  );
}
